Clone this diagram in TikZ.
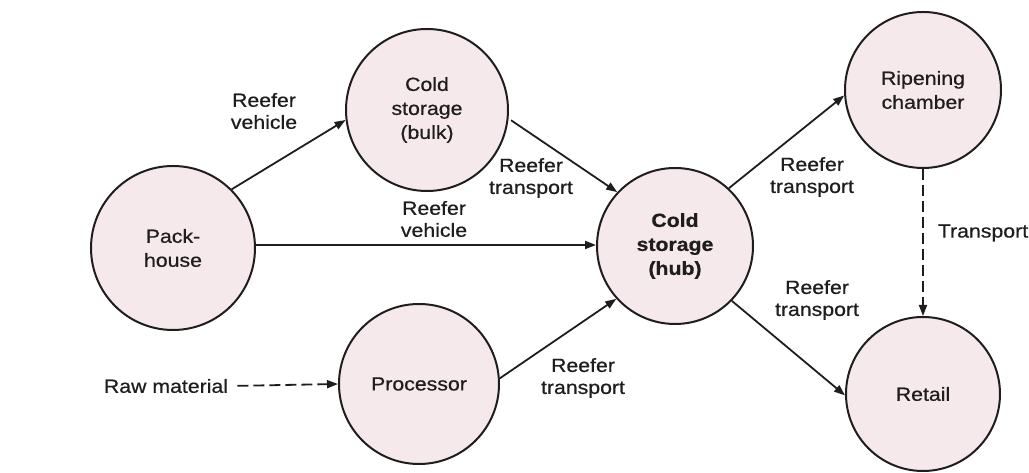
\documentclass[tikz,border=0pt]{standalone}
\usepackage{fontspec}
\setmainfont[FakeStretch=1.12,FakeBold=0.6]{Liberation Sans}
\usetikzlibrary{arrows.meta}
\definecolor{pinkfill}{RGB}{245,233,235}
\definecolor{inkc}{RGB}{30,30,30}
\begin{document}
\begin{tikzpicture}[x=1pt,y=1pt,
  stage/.style={circle, draw=inkc, line width=2pt, fill=pinkfill, inner sep=0pt,
    align=center, text=inkc, font=\fontsize{19}{24}\selectfont},
  lbl/.style={align=center, text=inkc, inner sep=1pt, font=\fontsize{19}{22}\selectfont},
  conn/.style={draw=inkc, line width=1.8pt, -{Triangle[length=11pt,width=8pt]}},
  dconn/.style={conn, dash pattern=on 11pt off 5pt}]
\useasboundingbox (0,0) rectangle (1029,473);
\fill[white] (0,0) rectangle (1029,473);

\node[stage, minimum size=164pt] (pack) at (173,225) {Pack-\\house};
\node[stage, minimum size=162pt] (bulk) at (427,363) {Cold\\storage\\(bulk)};
\node[stage, minimum size=156pt, font=\fontsize{19}{24}\selectfont\bfseries] (hub) at (675,227) {Cold\\storage\\(hub)};
\node[stage, minimum size=156pt] (ripen) at (923,383) {Ripening\\chamber};
\node[stage, minimum size=154pt] (retail) at (923,79) {Retail};
\node[stage, minimum size=160pt] (proc) at (419,89) {Processor};

\node[lbl] (raw) at (166,87) {Raw material};

\node[lbl] (l1) at (264,362) {Reefer\\vehicle};
\node[lbl] (l2) at (434,254) {Reefer\\vehicle};
\node[lbl] (l3) at (531,295) {Reefer\\transport};
\node[lbl] (l4) at (583,95) {Reefer\\transport};
\node[lbl] (l5) at (812,296) {Reefer\\transport};
\node[lbl] (l6) at (817,173) {Reefer\\transport};
\node[lbl] (l7) at (983,240) {Transport};

\draw[conn] (pack.45) -- (bulk.187);
\draw[conn] (pack.east |- 0,228) -- (hub.west |- 0,228);
\draw[conn, shorten <=3pt] (bulk.-6) -- (hub.137);
\draw[conn] (proc.4) -- (hub.222);
\draw[conn] (hub.47) -- (ripen.184);
\draw[conn] (hub.-44) -- (retail.181);
\draw[dconn] (ripen.south) -- (retail.north);
\draw[dconn, shorten <=8pt] (raw.east) -- (proc.west);
\end{tikzpicture}
\end{document}
